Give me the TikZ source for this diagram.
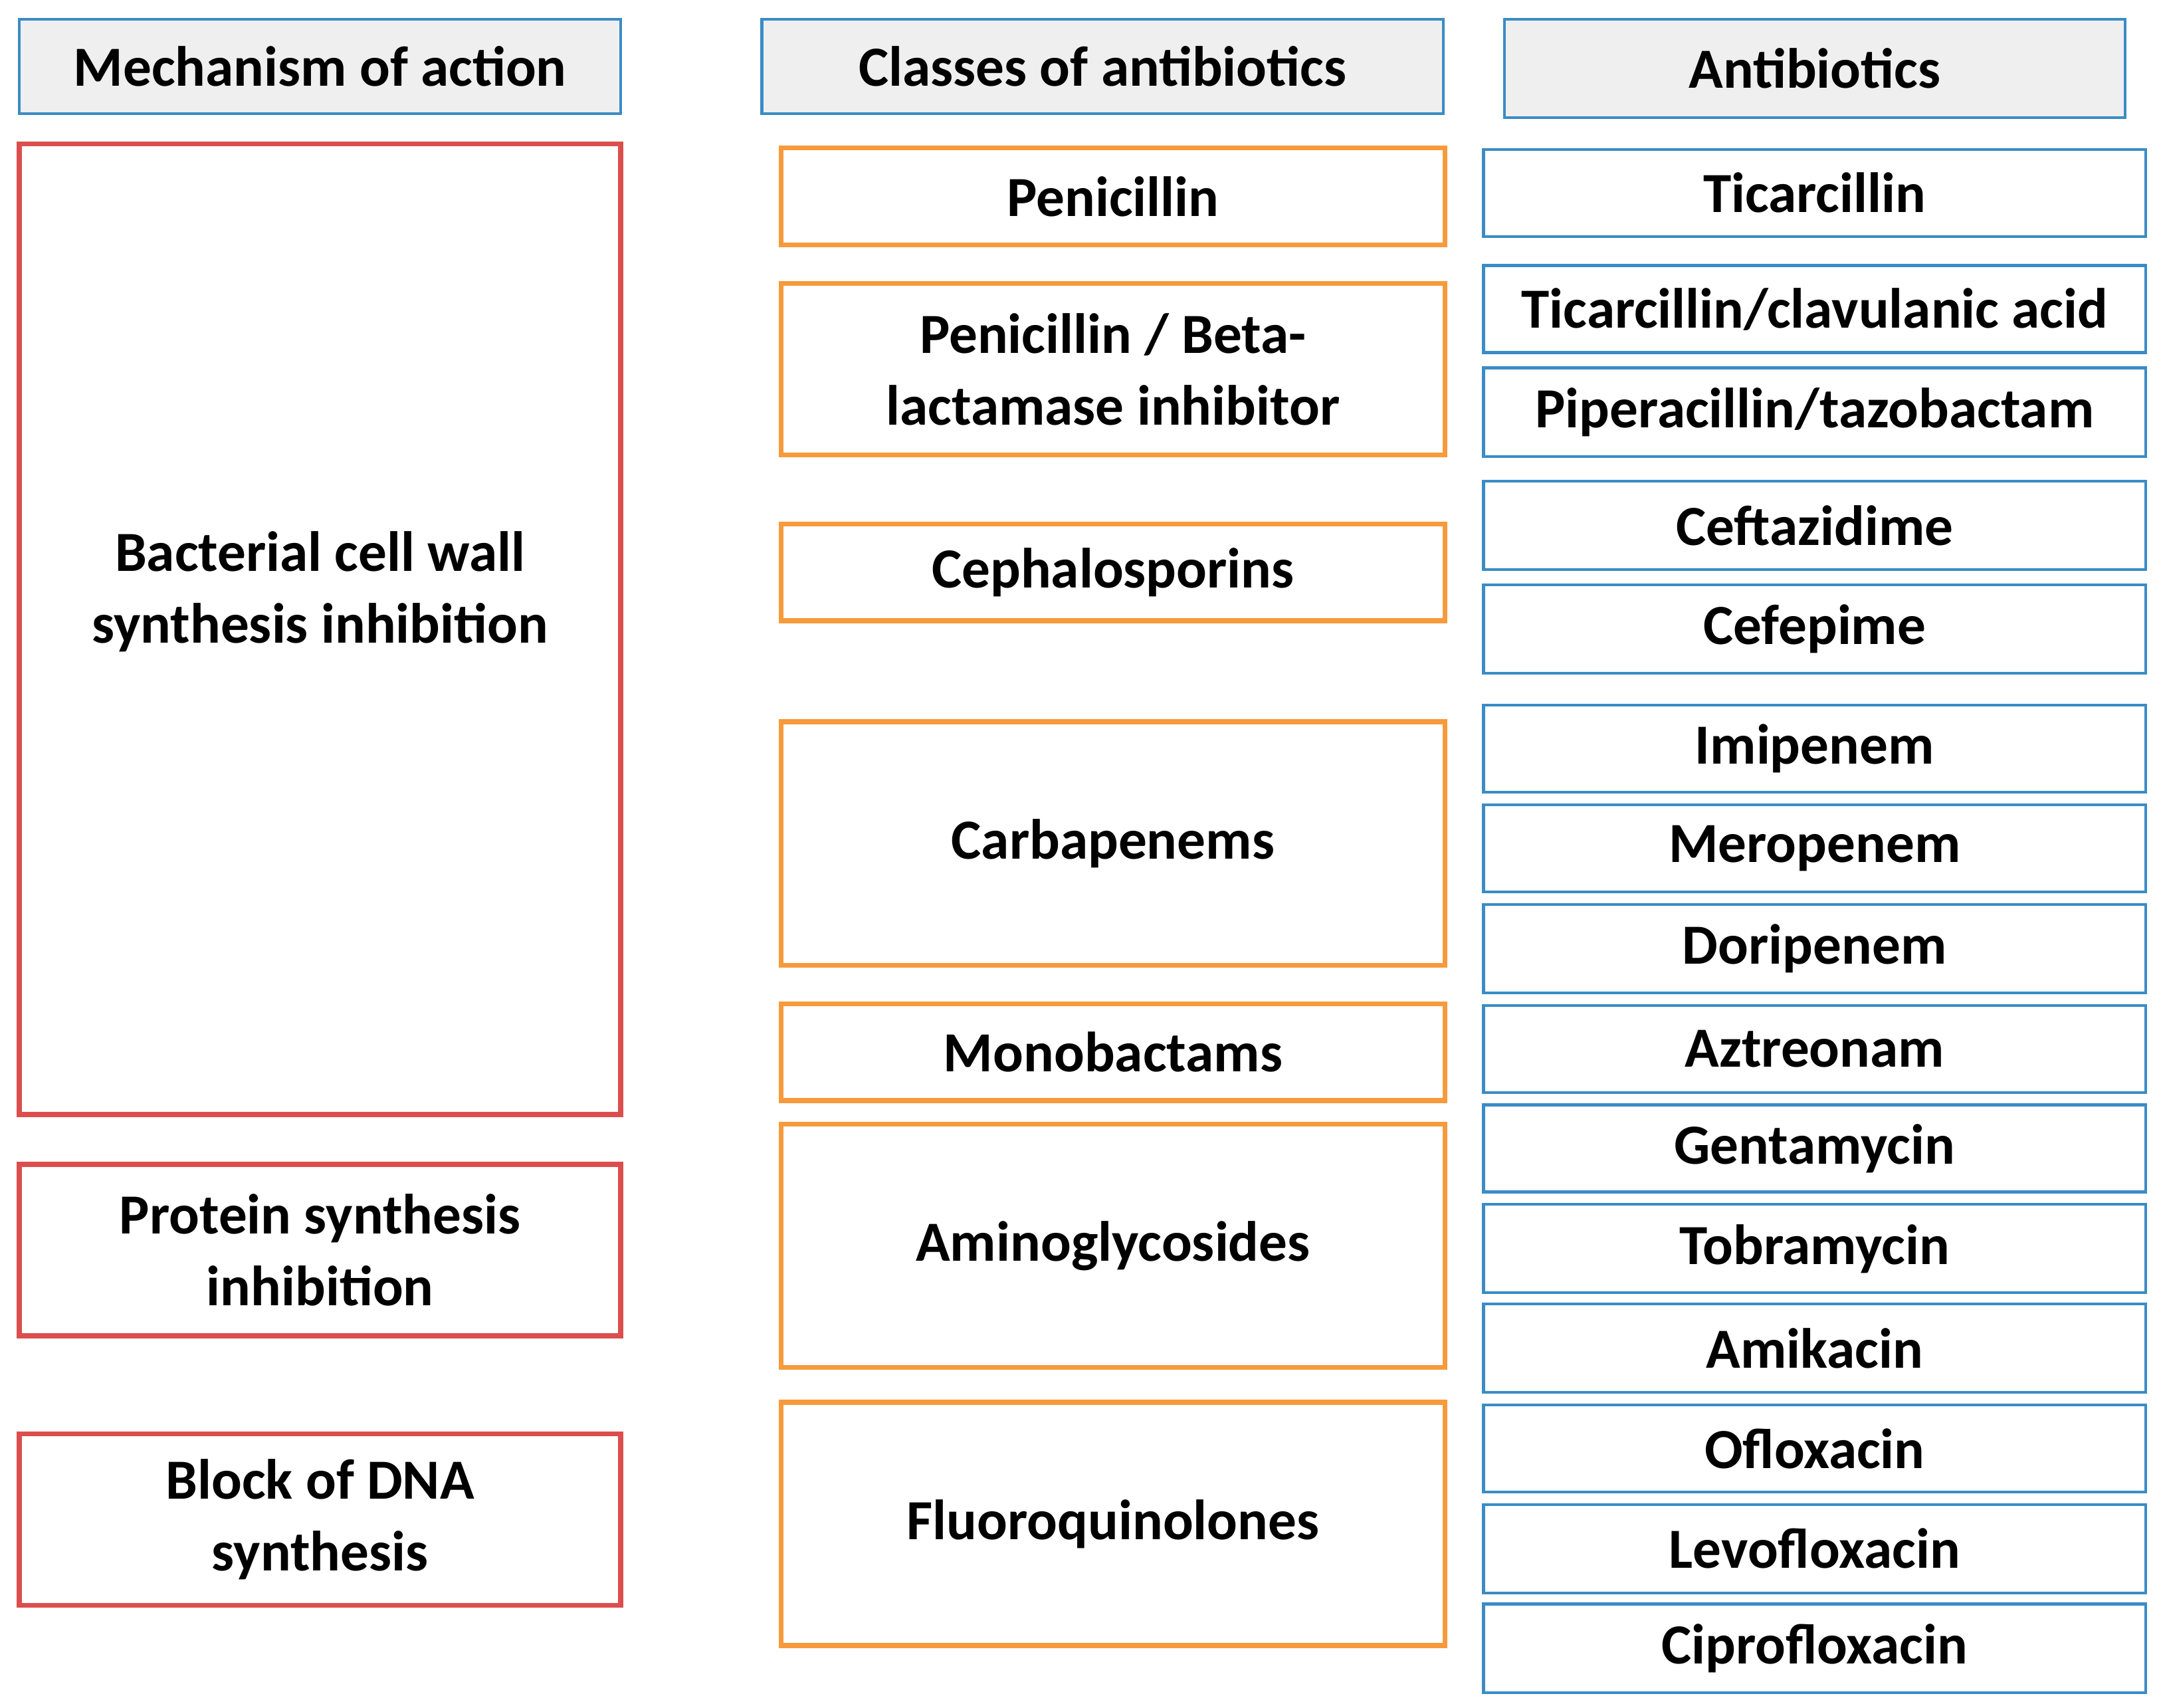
\documentclass[tikz,border=0pt]{standalone}
\usepackage{fontspec}
\setmainfont{Carlito}
\usetikzlibrary{fit}
\definecolor{hb}{HTML}{3A8CC6}
\definecolor{rd}{HTML}{DC4E4E}
\definecolor{og}{HTML}{F79A3B}
\definecolor{hf}{HTML}{EFEFEF}
\tikzset{
 base/.style={inner sep=0pt,outer sep=0pt},
 txt/.style={inner sep=0pt,font=\fontsize{20.5}{26}\selectfont\bfseries,align=center},
 hdr/.style={base,draw=hb,fill=hf,line width=1pt},
 mech/.style={base,draw=rd,line width=1.8pt},
 cls/.style={base,draw=og,line width=1.8pt},
 ab/.style={base,draw=hb,line width=1pt},
}
\newcommand{\bx}[7]{\node[#6,fit={(#2,#3)(#4,#5)}] (#1) {};\node[txt] (#1t) at (#1.center) {#7};}
\begin{document}
\begin{tikzpicture}[x=0.5pt,y=-0.5pt]
\useasboundingbox (0,0) rectangle (1563,1235);
\bx{h1}{14}{14}{449}{82}{hdr}{Mechanism of action}
\bx{h2}{551}{14}{1044}{82}{hdr}{Classes of antibiotics}
\bx{h3}{1088}{14}{1537}{85}{hdr}{Antibiotics}
\node[mech,fit={(14,104)(449,806)}] (m1) {};
\node[txt] (m1t) at (231.5,428) {Bacterial cell wall\\synthesis inhibition};
\bx{m2}{14}{842}{449}{966}{mech}{Protein synthesis\\inhibition}
\bx{m3}{14}{1037}{449}{1161}{mech}{Block of DNA\\synthesis}
\bx{c1}{565}{107}{1045}{177}{cls}{Penicillin}
\bx{c2}{565}{205}{1045}{329}{cls}{Penicillin / Beta-\\lactamase inhibitor}
\bx{c3}{565}{379}{1045}{449}{cls}{Cephalosporins}
\bx{c4}{565}{522}{1045}{698}{cls}{Carbapenems}
\bx{c5}{565}{726}{1045}{796}{cls}{Monobactams}
\bx{c6}{565}{813}{1045}{989}{cls}{Aminoglycosides}
\bx{c7}{565}{1014}{1045}{1190}{cls}{Fluoroquinolones}
\bx{a1}{1073}{108}{1552}{171}{ab}{Ticarcillin}
\bx{a2}{1073}{192}{1552}{255}{ab}{Ticarcillin/clavulanic acid}
\bx{a3}{1073}{266}{1552}{330}{ab}{Piperacillin/tazobactam}
\bx{a4}{1073}{348}{1552}{412}{ab}{Ceftazidime}
\bx{a5}{1073}{423}{1552}{487}{ab}{Cefepime}
\bx{a6}{1073}{510}{1552}{573}{ab}{Imipenem}
\bx{a7}{1073}{582}{1552}{645}{ab}{Meropenem}
\bx{a8}{1073}{654}{1552}{718}{ab}{Doripenem}
\bx{a9}{1073}{727}{1552}{790}{ab}{Aztreonam}
\bx{a10}{1073}{799}{1552}{862}{ab}{Gentamycin}
\bx{a11}{1073}{871}{1552}{935}{ab}{Tobramycin}
\bx{a12}{1073}{943}{1552}{1007}{ab}{Amikacin}
\bx{a13}{1073}{1016}{1552}{1079}{ab}{Ofloxacin}
\bx{a14}{1073}{1088}{1552}{1152}{ab}{Levofloxacin}
\bx{a15}{1073}{1160}{1552}{1224}{ab}{Ciprofloxacin}
\end{tikzpicture}
\end{document}
